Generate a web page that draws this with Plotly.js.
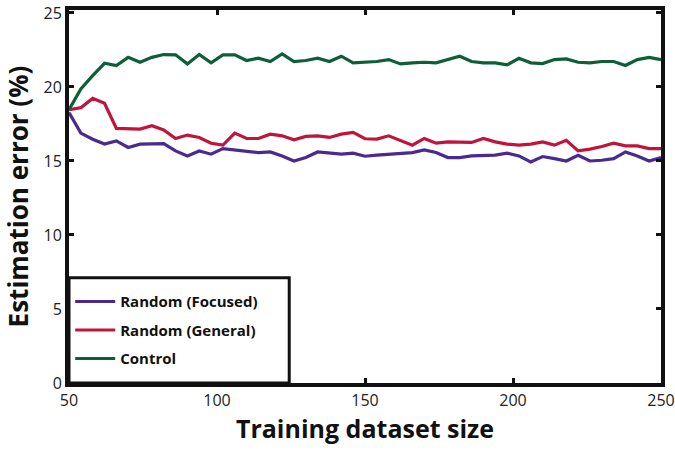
<!DOCTYPE html>
<html>
<head>
<meta charset="utf-8">
<script src="https://cdn.plot.ly/plotly-3.0.1.min.js"></script>
<style>html,body{margin:0;padding:0;background:#fff;}#chart{width:675px;height:450px;}</style>
</head>
<body>
<div id="chart"></div>
<script>
const datasetSize = [50,54,58,62,66,70,74,78,82,86,90,94,98,102,106,110,114,118,122,126,130,134,138,142,146,150,154,158,162,166,170,174,178,182,186,190,194,198,202,206,210,214,218,222,226,230,234,238,242,246,250];

const randomFocused = [18.28,16.88,16.47,16.14,16.36,15.91,16.14,16.14,16.17,15.68,15.34,15.68,15.46,15.84,15.75,15.66,15.57,15.61,15.34,15.00,15.23,15.61,15.53,15.46,15.53,15.32,15.39,15.46,15.53,15.57,15.75,15.57,15.23,15.23,15.34,15.39,15.39,15.53,15.34,14.94,15.30,15.16,15.00,15.39,15.00,15.05,15.16,15.61,15.34,15.00,15.23];

const randomGeneral = [18.46,18.60,19.23,18.90,17.20,17.20,17.15,17.38,17.10,16.52,16.75,16.59,16.20,16.07,16.88,16.52,16.52,16.81,16.70,16.43,16.66,16.70,16.59,16.81,16.93,16.50,16.48,16.70,16.36,16.07,16.52,16.20,16.29,16.29,16.25,16.52,16.29,16.14,16.07,16.14,16.29,16.07,16.40,15.68,15.80,15.98,16.20,16.02,16.02,15.84,15.84];

const control = [18.46,19.86,20.77,21.60,21.45,22.00,21.67,22.00,22.19,22.17,21.56,22.20,21.63,22.17,22.17,21.79,21.95,21.72,22.24,21.72,21.79,21.94,21.72,22.08,21.63,21.65,21.72,21.85,21.56,21.63,21.67,21.63,21.85,22.08,21.72,21.63,21.63,21.49,21.94,21.63,21.58,21.85,21.90,21.67,21.63,21.72,21.72,21.45,21.85,22.00,21.85];

const seriesNames = ["Random (Focused)", "Random (General)", "Control"];
const xTicks = [50,100,150,200,250];
const yTicks = [0,5,10,15,20,25];

const colors = ["#4a2a8f", "#c0143c", "#0e5e3a"];
const values = [randomFocused, randomGeneral, control];

const traces = values.map((v, i) => ({
  x: datasetSize, y: v, type: "scatter", mode: "lines",
  name: seriesNames[i], legendgroup: "g" + i,
  line: {color: colors[i], width: 3.2}
}));

const tickFont = {family: "Open Sans, Lato, sans-serif", size: 16, color: "#222"};
const axisCommon = {
  showgrid: false, zeroline: false, showline: true, linecolor: "#111", linewidth: 4,
  mirror: "ticks", ticks: "inside", ticklen: 5, tickwidth: 3, tickcolor: "#111",
  tickfont: tickFont
};

const layout = {
  width: 675, height: 450,
  margin: {l: 69, r: 14, t: 10, b: 67},
  paper_bgcolor: "#fff", plot_bgcolor: "#fff",
  showlegend: true,
  shapes: [{
    type: "rect", xref: "paper", yref: "paper", layer: "above",
    x0: 0, x1: 0.372, y0: 0, y1: 0.282,
    line: {color: "#111", width: 3}, fillcolor: "#fff"
  }],
  legend: {
    x: 0.002, y: 0.262, xanchor: "left", yanchor: "top",
    bgcolor: "rgba(0,0,0,0)", borderwidth: 0,
    font: {family: "Open Sans, Lato, sans-serif", size: 15, color: "#111", weight: "bold"},
    traceorder: "grouped", tracegroupgap: 6,
    itemwidth: 40
  },
  xaxis: Object.assign({}, axisCommon, {
    range: [50, 250], tickvals: xTicks, ticktext: xTicks.map(String),
    title: {text: "<b>Training dataset size</b>", font: {family: "Open Sans, Lato, sans-serif", size: 25, color: "#111"}, standoff: 8}
  }),
  yaxis: Object.assign({}, axisCommon, {
    range: [0, 25.2], tickvals: yTicks, ticktext: yTicks.map(String),
    title: {text: "<b>Estimation error (%)</b>", font: {family: "Open Sans, Lato, sans-serif", size: 26, color: "#111"}, standoff: 10}
  })
};

Plotly.newPlot("chart", traces, layout, {displayModeBar: false, staticPlot: true});
</script>
</body>
</html>
